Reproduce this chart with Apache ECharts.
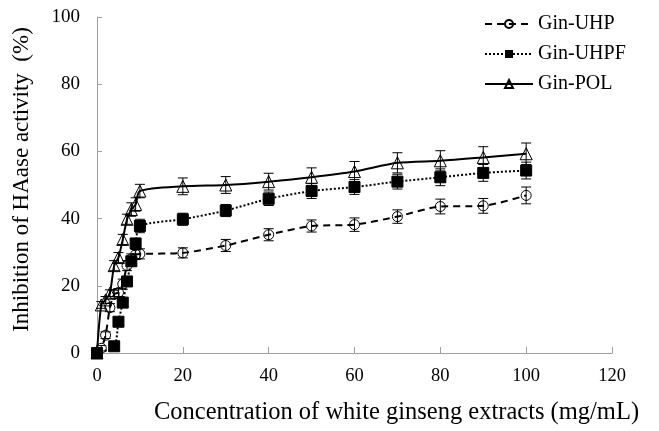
<!DOCTYPE html>
<html><head><meta charset="utf-8">
<script src="https://cdn.jsdelivr.net/npm/echarts@6/dist/echarts.min.js"></script>
<style>html,body{margin:0;padding:0;background:#fff}#c{width:659px;height:431px}</style>
</head><body><div id="c"></div>
<script>
const xTicks = [0, 20, 40, 60, 80, 100, 120];
const uhpX = [0,1,2,3,4,5,6,7,8,9,10,20,30,40,50,60,70,80,90,100];
const uhpY = [0,1.4,5.3,13.5,17.5,18,20.5,26,28,29.3,29.5,29.8,32,35.2,37.8,38.2,40.6,43.6,43.8,46.9];
const uhpErr = [0,0.8,1,1.2,1.2,1.2,1.5,1.5,1.5,1.5,1.5,1.5,1.8,1.8,1.8,2,2,2.2,2.2,2.5];
const uhpfX = [0,4,5,6,7,8,9,10,20,30,40,50,60,70,80,90,100];
const uhpfY = [0,2,9.3,15,21.3,27.3,32.6,37.8,39.8,42.4,45.9,48.2,49.4,51,52.3,53.6,54.3];
const uhpfErr = [0,0.8,1,1,1.2,1.2,1.5,2,1.8,1.8,2,2.2,2.2,2.2,2.5,2.5,2.5];
const polX = [0,1,2,3,4,5,6,7,8,9,10,20,30,40,50,60,70,80,90,100];
const polY = [0,14.3,15.8,17.8,26,28.4,33.8,39.8,42.7,44.2,48.2,49.6,50,51,52.3,54,56.6,57.2,58.2,59.3];
const polErr = [0,1,1,1,1.5,1.5,1.5,1.5,2,2,2,2.5,2.5,2.5,2.8,3,3,3,3.2,3.2];

const FONT = 'Liberation Serif';
const zip = (xs, ys) => xs.map((x, i) => [x, ys[i]]);
const zip3 = (xs, ys, es) => xs.map((x, i) => [x, ys[i], es[i]]);

function errRender(params, api) {
  const x = api.value(0), y = api.value(1), e = api.value(2);
  if (!e) return null;
  const t = api.coord([x, y + e]);
  const b = api.coord([x, y - e]);
  const w = 5;
  const st = { stroke: '#000', lineWidth: 1 };
  return { type: 'group', children: [
    { type: 'line', shape: { x1: t[0], y1: t[1], x2: b[0], y2: b[1] }, style: st },
    { type: 'line', shape: { x1: t[0] - w, y1: t[1], x2: t[0] + w, y2: t[1] }, style: st },
    { type: 'line', shape: { x1: b[0] - w, y1: b[1], x2: b[0] + w, y2: b[1] }, style: st }
  ]};
}

const chart = echarts.init(document.getElementById('c'));
const hollow = { color: 'rgba(255,255,255,0)', borderColor: '#000', borderWidth: 1 };
chart.setOption({
  animation: false,
  backgroundColor: '#fff',
  grid: { left: 97, right: 47, top: 17, bottom: 78 },
  legend: {
    orient: 'vertical', left: 479, top: 9, itemWidth: 48, itemHeight: 10, itemGap: 10,
    textStyle: { fontFamily: FONT, fontSize: 20, lineHeight: 20, color: '#000' },
    data: ['Gin-UHP', 'Gin-UHPF', 'Gin-POL']
  },
  xAxis: {
    type: 'value', min: 0, max: 120, interval: 20,
    name: 'Concentration of white ginseng extracts (mg/mL)',
    nameLocation: 'middle', nameGap: 47,
    nameTextStyle: { fontFamily: FONT, fontSize: 24.5, color: '#000', padding: [0, 0, 0, 84] },
    axisLine: { lineStyle: { color: '#a0a0a0', width: 1 } },
    axisTick: { inside: true, length: 6, lineStyle: { color: '#a0a0a0' } },
    axisLabel: { fontFamily: FONT, fontSize: 18.5, color: '#000', margin: 14,
      formatter: v => xTicks.includes(v) ? String(v) : '' },
    splitLine: { show: false }
  },
  yAxis: {
    type: 'value', min: 0, max: 100, interval: 20,
    name: 'Inhibition of HAase activity  (%)',
    nameLocation: 'middle', nameGap: 64,
    nameTextStyle: { fontFamily: FONT, fontSize: 23, color: '#000', padding: [0, 0, 0, 11] },
    axisLine: { show: true, lineStyle: { color: '#a0a0a0', width: 1 } },
    axisTick: { show: true, inside: true, length: 5, lineStyle: { color: '#a0a0a0' } },
    axisLabel: { fontFamily: FONT, fontSize: 19, color: '#000', margin: 17 },
    splitLine: { show: false }
  },
  series: [
    { name: 'Gin-UHP', type: 'line', data: zip(uhpX, uhpY), smooth: 0.25,
      symbol: 'circle', symbolSize: 10, itemStyle: hollow,
      lineStyle: { color: '#000', width: 2, type: [7, 5] }, z: 3 },
    { name: 'Gin-UHPF', type: 'line', data: zip(uhpfX, uhpfY), smooth: 0.25,
      symbol: 'rect', symbolSize: 11, itemStyle: { color: '#000', borderColor: '#000' },
      lineStyle: { color: '#000', width: 2, type: [2, 2] }, z: 3 },
    { name: 'Gin-POL', type: 'line', data: zip(polX, polY), smooth: 0.25,
      symbol: 'triangle', symbolSize: 12, itemStyle: hollow,
      lineStyle: { color: '#000', width: 2, type: 'solid' }, z: 3 },
    { type: 'custom', renderItem: errRender, data: zip3(uhpX, uhpY, uhpErr), encode: { x: 0, y: 1 }, z: 4, silent: true },
    { type: 'custom', renderItem: errRender, data: zip3(uhpfX, uhpfY, uhpfErr), encode: { x: 0, y: 1 }, z: 4, silent: true },
    { type: 'custom', renderItem: errRender, data: zip3(polX, polY, polErr), encode: { x: 0, y: 1 }, z: 4, silent: true }
  ]
});
</script></body></html>
